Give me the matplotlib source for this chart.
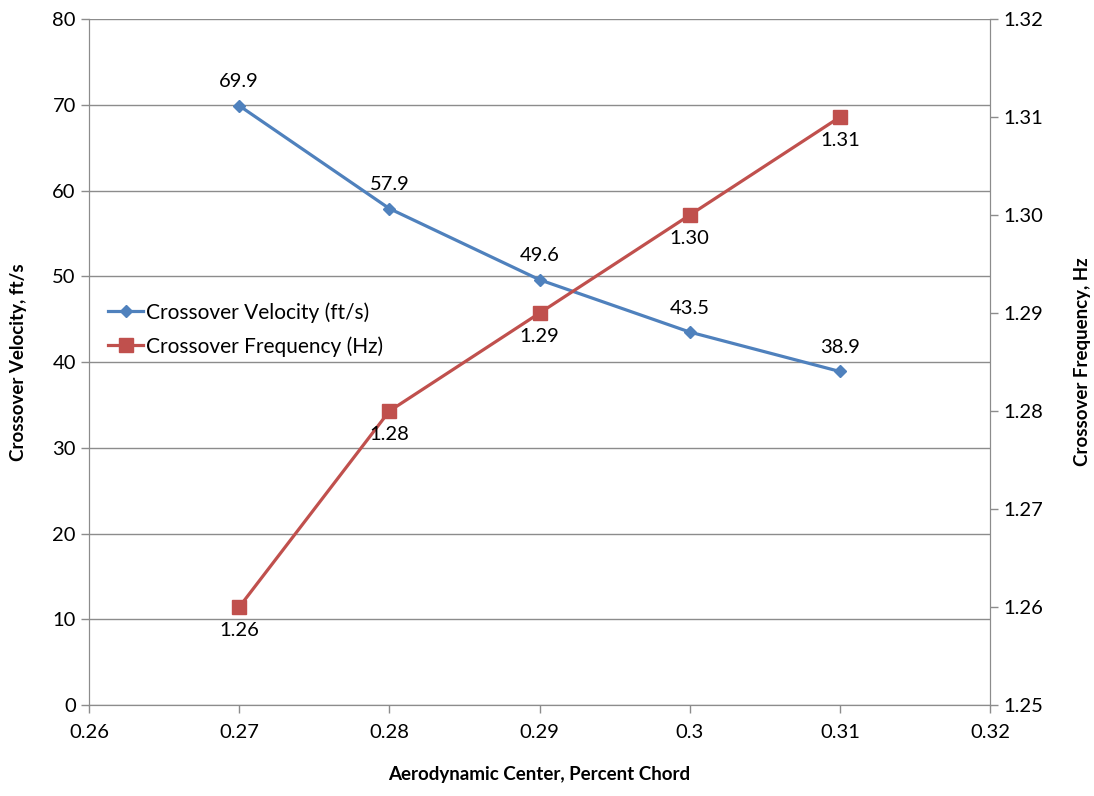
import matplotlib
matplotlib.use("Agg")
import matplotlib.pyplot as plt

plt.rcParams['font.family'] = ['Lato', 'DejaVu Sans']

chord = [0.27, 0.28, 0.29, 0.30, 0.31]
velocity = [69.9, 57.9, 49.6, 43.5, 38.9]
frequency = [1.26, 1.28, 1.29, 1.30, 1.31]
vel_labels = ["69.9", "57.9", "49.6", "43.5", "38.9"]
freq_labels = ["1.26", "1.28", "1.29", "1.30", "1.31"]

blue = "#4F81BD"
red = "#C0504D"
grid_c = "#8C8C8C"

fig = plt.figure(figsize=(10.94, 7.96), dpi=100)
ax = fig.add_axes([0.0814, 0.1143, 0.8236, 0.8617])
ax2 = ax.twinx()

l1, = ax.plot(chord, velocity, color=blue, lw=2.3, marker="D", ms=6,
              label="Crossover Velocity (ft/s)")
l2, = ax2.plot(chord, frequency, color=red, lw=2.3, marker="s", ms=10,
               label="Crossover Frequency (Hz)")

for x, y, t in zip(chord, velocity, vel_labels):
    ax.annotate(t, (x, y), xytext=(0, 11), textcoords="offset points",
                ha="center", va="bottom", fontsize=14.5)
for x, y, t in zip(chord, frequency, freq_labels):
    ax2.annotate(t, (x, y), xytext=(0, -11), textcoords="offset points",
                 ha="center", va="top", fontsize=14.5)

ax.set_xlim(0.26, 0.32)
ax.set_ylim(0, 80)
ax2.set_ylim(1.25, 1.32)
ax.set_xticks([0.26, 0.27, 0.28, 0.29, 0.30, 0.31, 0.32])
ax.set_xticklabels(["0.26", "0.27", "0.28", "0.29", "0.3", "0.31", "0.32"])
ax.set_yticks(range(0, 81, 10))
ax2.set_yticks([1.25, 1.26, 1.27, 1.28, 1.29, 1.30, 1.31, 1.32])
ax2.set_yticklabels(["1.25", "1.26", "1.27", "1.28", "1.29", "1.30", "1.31", "1.32"])

ax.yaxis.grid(True, color=grid_c, lw=1)
ax.set_axisbelow(True)

for a in (ax, ax2):
    a.spines["top"].set_visible(False)
    for s in ("left", "right", "bottom"):
        a.spines[s].set_color(grid_c)
    a.tick_params(colors=grid_c, labelcolor="black", labelsize=14.5,
                  length=6, width=1, direction="out")
ax.tick_params(axis="x", pad=8)

ax.set_xlabel("Aerodynamic Center, Percent Chord", fontsize=13.5,
              fontweight="bold", labelpad=18)
ax.set_ylabel("Crossover Velocity, ft/s", fontsize=13.5, fontweight="bold",
              labelpad=18)
ax2.set_ylabel("Crossover Frequency, Hz", fontsize=13.5, fontweight="bold",
               labelpad=22)

ax.legend(handles=[l1, l2], loc="upper left", bbox_to_anchor=(0.0, 0.615),
          frameon=False, fontsize=15, handlelength=1.7, handletextpad=0.15,
          labelspacing=0.65)

fig.savefig("out.png", dpi=100)
